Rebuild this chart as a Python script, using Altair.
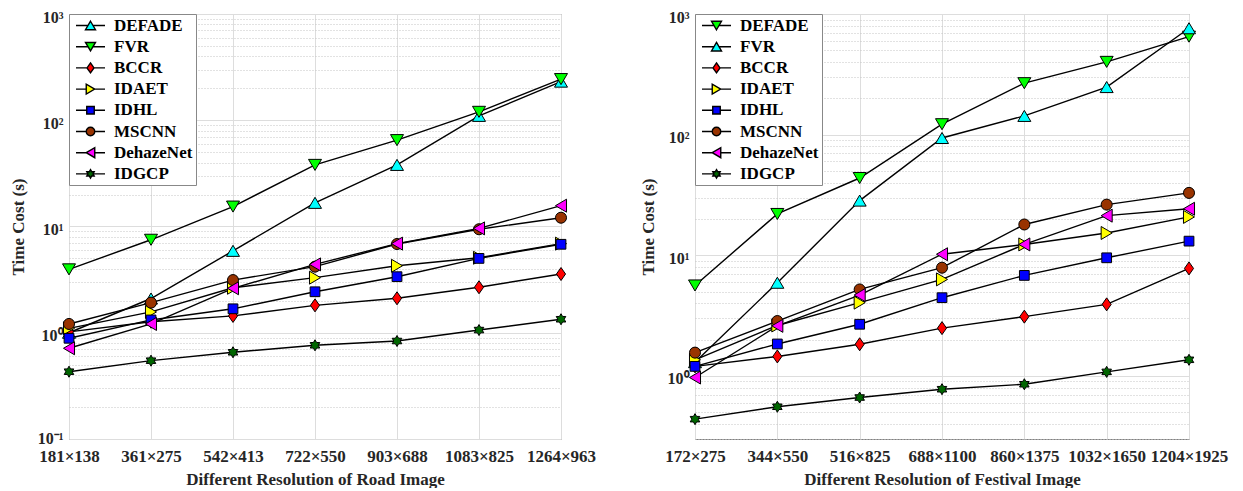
import altair as alt
import pandas as pd

# ---------------- data ----------------
methods = ["DEFADE", "FVR", "BCCR", "IDAET", "IDHL", "MSCNN", "DehazeNet", "IDGCP"]

road_res = ["181×138", "361×275", "542×413", "722×550", "903×688", "1083×825", "1264×963"]
fest_res = ["172×275", "344×550", "516×825", "688×1100", "860×1375", "1032×1650", "1204×1925"]

road_defade = [1.0, 2.1, 5.9, 16.7, 38, 110, 231]
road_fvr = [3.95, 7.5, 15.4, 38, 65, 120, 244]
road_bccr = [1.02, 1.27, 1.44, 1.81, 2.11, 2.68, 3.57]
road_idaet = [1.1, 1.57, 2.65, 3.30, 4.27, 5.08, 6.9]
road_idhl = [0.887, 1.32, 1.68, 2.43, 3.37, 5.01, 6.80]
road_mscnn = [1.21, 1.92, 3.13, 4.19, 6.84, 9.42, 12.1]
road_dehazenet = [0.714, 1.21, 2.62, 4.40, 6.9, 9.6, 15.7]
road_idgcp = [0.43, 0.546, 0.655, 0.762, 0.836, 1.06, 1.34]

fest_defade = [5.62, 22.0, 43.7, 122, 267, 401, 649]
fest_fvr = [1.3, 5.92, 28.4, 93.8, 143, 248, 762]
fest_bccr = [1.2, 1.45, 1.83, 2.49, 3.10, 3.92, 7.78]
fest_idaet = [1.36, 2.62, 4.05, 6.31, 12.3, 15.3, 20.8]
fest_idhl = [1.20, 1.84, 2.68, 4.45, 6.81, 9.53, 13.1]
fest_mscnn = [1.56, 2.85, 5.21, 7.89, 18.0, 26.3, 32.9]
fest_dehazenet = [0.97, 2.60, 4.68, 10.2, 12.3, 21.3, 24.3]
fest_idgcp = [0.438, 0.555, 0.662, 0.776, 0.853, 1.08, 1.36]

road_series = [road_defade, road_fvr, road_bccr, road_idaet, road_idhl,
               road_mscnn, road_dehazenet, road_idgcp]
fest_series = [fest_defade, fest_fvr, fest_bccr, fest_idaet, fest_idhl,
               fest_mscnn, fest_dehazenet, fest_idgcp]


def to_df(cats, series_list):
    rows = []
    for m, vals in zip(methods, series_list):
        for i, (c, v) in enumerate(zip(cats, vals)):
            rows.append({"method": m, "res": c, "idx": i, "t": v})
    return pd.DataFrame(rows)


road_df = to_df(road_res, road_series)
fest_df = to_df(fest_res, fest_series)

# ---------------- styles ----------------
FONT = "Liberation Serif"
CYAN, GREEN, RED, YELLOW = "#00FFFF", "#00FF00", "#FF0000", "#FFFF00"
BLUE, BROWN, MAGENTA, DKGREEN = "#0000FF", "#993300", "#FF00FF", "#006600"

TRI_UP = "M0,-0.85L1,0.85L-1,0.85Z"
TRI_DOWN = "M0,0.85L1,-0.85L-1,-0.85Z"
TRI_RIGHT = "M0.85,0L-0.85,-1L-0.85,1Z"
TRI_LEFT = "M-0.85,0L0.85,-1L0.85,1Z"
DIAMOND = "M0,-1L0.7,0L0,1L-0.7,0Z"
SQUARE = "M-0.75,-0.75L0.75,-0.75L0.75,0.75L-0.75,0.75Z"
CIRCLE = "M-0.85,0A0.85,0.85 0 1,0 0.85,0A0.85,0.85 0 1,0 -0.85,0Z"
HEXAGRAM = ("M0,-0.85L0.245,-0.425L0.736,-0.425L0.49,0L0.736,0.425L0.245,0.425"
            "L0,0.85L-0.245,0.425L-0.736,0.425L-0.49,0L-0.736,-0.425L-0.245,-0.425Z")

EDGE = {TRI_UP: 0.5, TRI_DOWN: 0.5, TRI_RIGHT: 0.85, TRI_LEFT: 0.85,
        DIAMOND: 0.7, SQUARE: 0.75, CIRCLE: 0.85, HEXAGRAM: 0.49}


def with_line(p):
    e = EDGE[p]
    return f"M-2.9,0L-{e},0M{e},0L2.9,0" + p


road_colors = [CYAN, GREEN, RED, YELLOW, BLUE, BROWN, MAGENTA, DKGREEN]
road_shapes = [TRI_UP, TRI_DOWN, DIAMOND, TRI_RIGHT, SQUARE, CIRCLE, TRI_LEFT, HEXAGRAM]
fest_colors = [GREEN, CYAN, RED, YELLOW, BLUE, BROWN, MAGENTA, DKGREEN]
fest_shapes = [TRI_DOWN, TRI_UP, DIAMOND, TRI_RIGHT, SQUARE, CIRCLE, TRI_LEFT, HEXAGRAM]

LABEL_EXPR = ("datum.value == 1000 ? '10³' : datum.value == 100 ? '10²' : "
              "datum.value == 10 ? '10¹' : datum.value == 1 ? '10⁰' : "
              "datum.value == 0.1 ? '10⁻¹' : ''")
MAJOR_TEST = "abs(log(datum.value)/LN10 - round(log(datum.value)/LN10)) < 0.001"


def y_values(lo_decade):
    vals = []
    d = lo_decade
    while d < 1000:
        vals.append(d)
        for k in range(2, 10):
            vals.append(k * d)
        d *= 10
    vals.append(1000)
    return vals


def panel(df, cats, colors, shapes, xtitle, ydomain, yvals, width):
    base = alt.Chart(df)
    x = alt.X("res:N", sort=cats,
              scale=alt.Scale(type="point", padding=0),
              axis=alt.Axis(title=xtitle, labelAngle=0, grid=True, gridColor="#DDDDDD",
                            ticks=False, domain=False, labelPadding=9,
                            labelFontSize=17, titleFontSize=17, titlePadding=7))
    y = alt.Y("t:Q",
              scale=alt.Scale(type="log", domain=ydomain, nice=False),
              axis=alt.Axis(title="Time Cost (s)", values=yvals, labelExpr=LABEL_EXPR,
                            grid=True, ticks=False, domain=False, labelPadding=6,
                            labelOffset={"condition": {"test": "datum.value < 0.2", "value": -1},
                                         "value": 3},
                            labelFontSize=16, titleFontSize=17, titlePadding=10,
                            gridDash={"condition": {"test": MAJOR_TEST, "value": []},
                                      "value": [1, 2]},
                            gridColor={"condition": {"test": MAJOR_TEST, "value": "#DDDDDD"},
                                       "value": "#C4C4C4"}))
    lines = base.mark_line(color="black", strokeWidth=1.4).encode(
        x=x, y=y, detail="method:N", order="idx:Q")
    pts = base.mark_point(filled=True, size=169, stroke="black", strokeWidth=1,
                          opacity=1).encode(
        x=x, y=y,
        shape=alt.Shape("method:N", scale=alt.Scale(domain=methods, range=shapes), legend=None),
        fill=alt.Fill("method:N", scale=alt.Scale(domain=methods, range=colors), legend=None))
    leg_def = alt.Legend(title=None, orient="top-left", offset=0, padding=3,
                         strokeColor="#888888", fillColor="white",
                         labelFont=FONT, labelFontSize=17, labelFontWeight="bold",
                         labelColor="black", symbolOffset=10, labelOffset=15,
                         rowPadding=3.2, symbolStrokeWidth=1.4, symbolOpacity=1)
    leg = base.mark_point(filled=True, size=169, strokeWidth=1.4, opacity=1).encode(
        shape=alt.Shape("method:N",
                        scale=alt.Scale(domain=methods, range=[with_line(s) for s in shapes]),
                        legend=leg_def),
        fill=alt.Fill("method:N", scale=alt.Scale(domain=methods, range=colors),
                      legend=leg_def),
        stroke=alt.Stroke("method:N", scale=alt.Scale(domain=methods, range=["black"] * 8),
                          legend=leg_def)).transform_filter("false")
    return alt.layer(lines, pts, leg).resolve_scale(
        shape="independent", fill="independent", stroke="independent").properties(
        width=width, height=425)


left = panel(road_df, road_res, road_colors, road_shapes,
             "Different Resolution of Road Image", [0.1, 1000], y_values(0.1), 492)
right = panel(fest_df, fest_res, fest_colors, fest_shapes,
              "Different Resolution of Festival Image", [0.3, 1000],
              [0.3, 0.4, 0.5, 0.6, 0.7, 0.8, 0.9] + y_values(1), 494)

chart = alt.hconcat(left, right, spacing=134, bounds="flush").resolve_scale(
    x="independent", y="independent", shape="independent", fill="independent",
    stroke="independent"
).resolve_legend(shape="independent", fill="independent", stroke="independent").properties(
    padding={"left": 0, "top": 0, "right": 2, "bottom": 0}
).configure_view(stroke="#808080", strokeWidth=1).configure_axis(
    labelFont=FONT, titleFont=FONT, labelFontWeight="bold", titleFontWeight="bold",
    labelColor="#262626", titleColor="#262626"
)

chart.save("out.html", embed_options={"renderer": "svg", "actions": False})
